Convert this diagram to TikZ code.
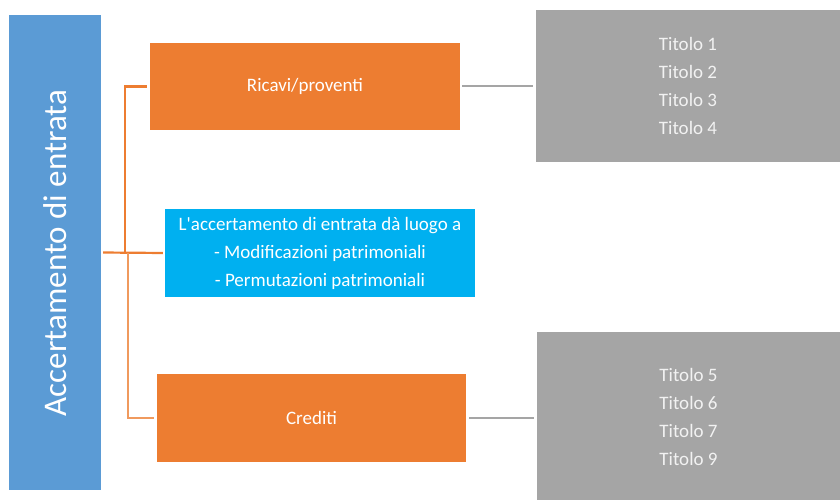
\documentclass[tikz,border=0pt]{standalone}
\usepackage{fontspec}
\setmainfont{Carlito}
\newfontfamily\plaincarlito{Carlito}
\definecolor{rootblue}{HTML}{5B9BD5}
\definecolor{orng}{HTML}{ED7D31}
\definecolor{orngl}{HTML}{F09A5E}
\definecolor{cyanb}{HTML}{00B0F0}
\definecolor{grayb}{HTML}{A5A5A5}
\definecolor{graytxt}{HTML}{F2F2F2}
\tikzset{
  box/.style={rectangle, inner sep=0pt, text=white, align=center,
    font=\plaincarlito\fontsize{19}{28}\selectfont},
  obox/.style={box, fill=orng},
  gbox/.style={box, fill=grayb, text=graytxt},
  olink/.style={draw=orng, line width=2.2pt},
  olinkl/.style={draw=orngl, line width=2.2pt},
  glink/.style={draw=grayb, line width=2pt},
}
\begin{document}
\begin{tikzpicture}[x=1pt,y=-1pt]
\useasboundingbox (0,0) rectangle (840,500);
\node[box, fill=rootblue, minimum width=92pt, minimum height=475pt] (root) at (55,252.5) {};
\node[rotate=90, text=white, font=\fontsize{33}{40}\selectfont] (roottxt) at (55,253) {Accertamento di entrata};
\node[obox, minimum width=310pt, minimum height=87pt] (rev) at (305,86.5) {Ricavi/proventi};
\node[box, fill=cyanb, minimum width=310pt, minimum height=88pt] (mid) at (320,253) {L'accertamento di entrata dà luogo a\\- Modificazioni patrimoniali\\- Permutazioni patrimoniali};
\node[obox, minimum width=309pt, minimum height=88pt] (cred) at (311.5,418) {Crediti};
\node[gbox, minimum width=304pt, minimum height=152pt] (g1) at (688,86) {Titolo 1\\Titolo 2\\Titolo 3\\Titolo 4};
\node[gbox, minimum width=303pt, minimum height=169pt] (g2) at (688.5,416.5) {Titolo 5\\Titolo 6\\Titolo 7\\Titolo 9};
\coordinate (j1) at (125,253);
\coordinate (j2) at (128,253);
\draw[olink, shorten <=2pt, shorten >=2pt] (root.east) -- (mid.west);
\draw[olink, shorten >=3pt] (j1) |- (rev.west);
\draw[olinkl, shorten >=3pt] (j2) |- (cred.west);
\draw[glink, shorten <=2pt, shorten >=3pt] (rev.east) -- (g1.west |- rev.east);
\draw[glink, shorten <=3pt, shorten >=3pt] (cred.east) -- (g2.west |- cred.east);
\end{tikzpicture}
\end{document}
